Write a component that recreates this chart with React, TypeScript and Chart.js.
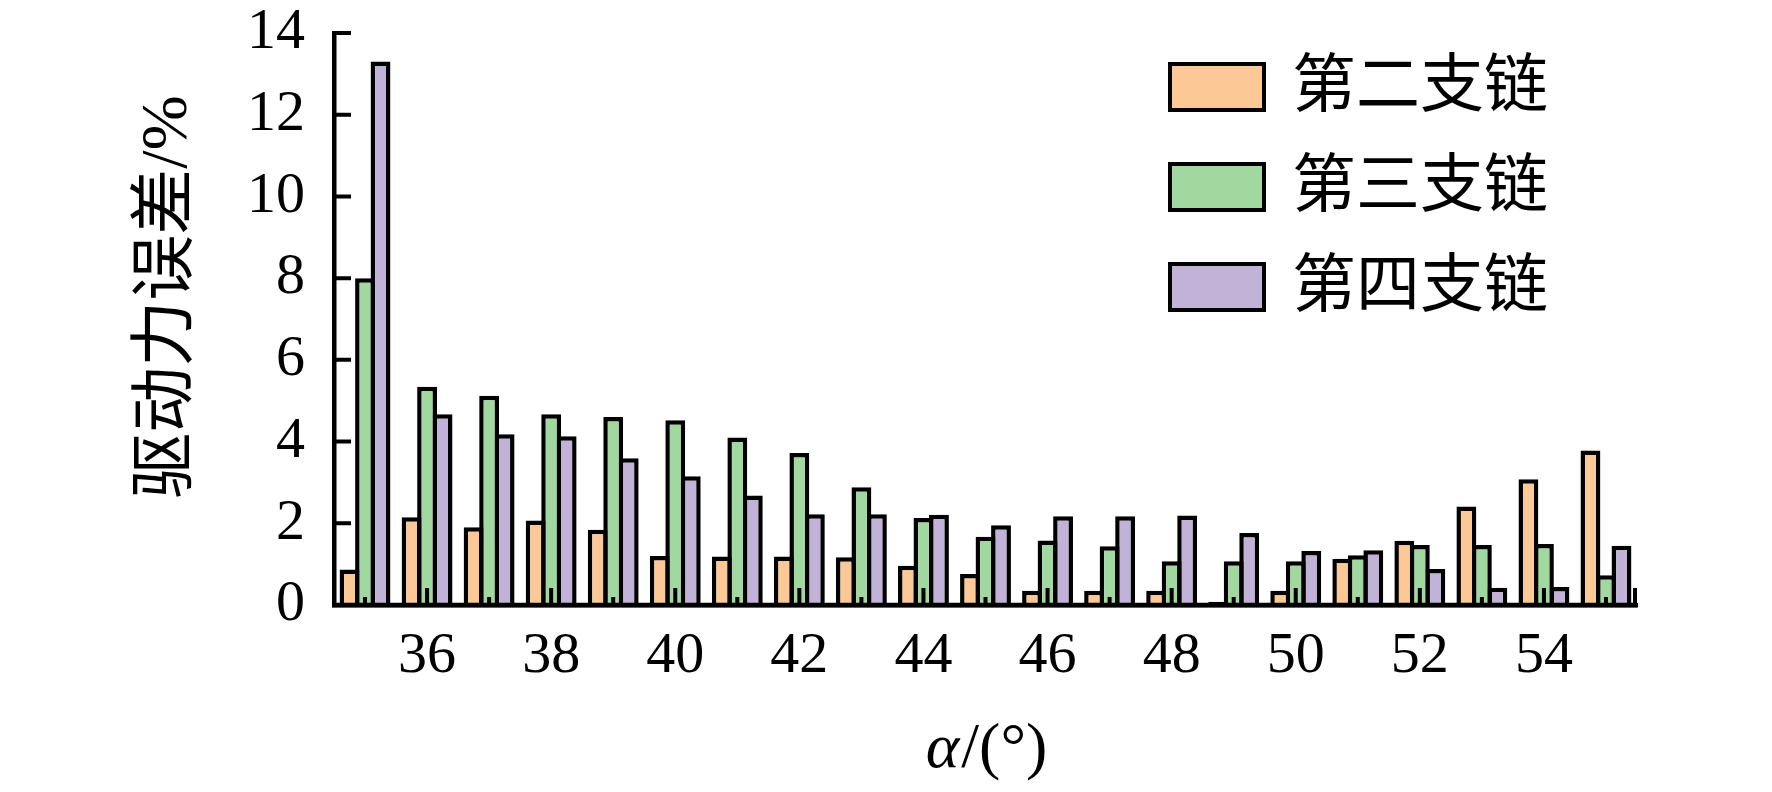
import { useEffect, useRef } from "react"
import { Chart, registerables } from "chart.js"

Chart.register(...registerables)

// alpha angle, degrees
const angles = ["35", "36", "37", "38", "39", "40", "41", "42", "43", "44", "45", "46", "47", "48", "49", "50", "51", "52", "53", "54", "55"]

// driving force error, %
const branch2 = [0.87, 2.15, 1.9, 2.07, 1.84, 1.2, 1.19, 1.19, 1.17, 0.96, 0.76, 0.35, 0.35, 0.35, 0.08, 0.35, 1.13, 1.57, 2.41, 3.08, 3.78]
const branch3 = [8.0, 5.34, 5.12, 4.67, 4.6, 4.52, 4.1, 3.72, 2.88, 2.13, 1.67, 1.58, 1.44, 1.07, 1.07, 1.07, 1.22, 1.47, 1.47, 1.49, 0.73]
const branch4 = [13.3, 4.67, 4.18, 4.13, 3.59, 3.15, 2.68, 2.22, 2.22, 2.21, 1.95, 2.17, 2.17, 2.19, 1.76, 1.32, 1.34, 0.88, 0.42, 0.44, 1.45]

const seriesNames = ["第二支链", "第三支链", "第四支链"]
const seriesColors = ["#FCC896", "#A0D8A0", "#C1B2D7"]

const yTitle = "驱动力误差/%"

const serif = "'Liberation Serif', 'Times New Roman', serif"
const cjk = "'Liberation Serif', 'Noto Sans CJK SC', serif"

// inward ticks, axis line, legend and axis titles
const decor = {
  id: "decor",
  afterDatasetsDraw(chart: any) {
    const { ctx, chartArea, scales } = chart
    const { left, right, top, bottom } = chartArea
    ctx.save()
    ctx.strokeStyle = "#000"
    ctx.lineWidth = 4
    ctx.beginPath()
    scales.y.ticks.forEach((t: any) => {
      const py = scales.y.getPixelForValue(t.value)
      const len = t.value % 2 === 0 ? 17 : 8
      ctx.moveTo(left, py)
      ctx.lineTo(left + len, py)
    })
    angles.forEach((a, i) => {
      const px = scales.x.getPixelForValue(i)
      const len = Number(a) % 2 === 0 ? 17 : 8
      ctx.moveTo(px, bottom)
      ctx.lineTo(px, bottom - len)
    })
    ctx.moveTo(right - 2, bottom)
    ctx.lineTo(right - 2, bottom - 17)
    ctx.stroke()

    ctx.lineWidth = 4.5
    ctx.beginPath()
    ctx.moveTo(left - 2, bottom)
    ctx.lineTo(right, bottom)
    ctx.stroke()

    // legend
    const bx = right - 469
    const by = top + 29
    chart.data.datasets.forEach((ds: any, i: number) => {
      const y0 = by + i * 100
      ctx.fillStyle = ds.backgroundColor
      ctx.fillRect(bx + 2, y0 + 2, 94, 46)
      ctx.lineWidth = 4
      ctx.strokeRect(bx + 2, y0 + 2, 94, 46)
      ctx.fillStyle = "#000"
      ctx.font = `64px ${cjk}`
      ctx.textAlign = "left"
      ctx.textBaseline = "middle"
      ctx.fillText(ds.label, bx + 124, y0 + 27)
    })

    // x title with italic alpha
    ctx.font = `italic 64px ${serif}`
    const w1 = ctx.measureText("α").width
    ctx.font = `64px ${serif}`
    const w2 = ctx.measureText("/(°)").width
    const sx = (left + right) / 2 - (w1 + w2) / 2
    const ty = bottom + 145
    ctx.textAlign = "left"
    ctx.textBaseline = "middle"
    ctx.font = `italic 64px ${serif}`
    ctx.fillText("α", sx, ty)
    ctx.font = `64px ${serif}`
    ctx.fillText("/(°)", sx + w1 + 2, ty)

    // y title
    ctx.save()
    ctx.translate(left - 165, top + 264)
    ctx.rotate(-Math.PI / 2)
    ctx.textAlign = "center"
    ctx.textBaseline = "middle"
    ctx.font = `66px ${cjk}`
    ctx.fillText(yTitle, 0, 0)
    ctx.restore()

    ctx.restore()
  },
}

export default function App() {
  const chartRef = useRef<HTMLCanvasElement>(null)
  const chartInstance = useRef<Chart | null>(null)

  useEffect(() => {
    document.body.style.margin = "0"
    if (!chartRef.current) return
    if (chartInstance.current) chartInstance.current.destroy()

    const values = [branch2, branch3, branch4]

    chartInstance.current = new Chart(chartRef.current, {
      type: "bar",
      data: {
        labels: angles,
        datasets: values.map((data, i) => ({
          label: seriesNames[i],
          data,
          backgroundColor: seriesColors[i],
          borderColor: "#000",
          borderWidth: 4.5,
          categoryPercentage: 0.75,
          barPercentage: 1.28,
        })),
      },
      options: {
        animation: false,
        responsive: true,
        maintainAspectRatio: false,
        layout: { padding: { left: 0, top: 33, right: 135, bottom: 0 } },
        plugins: {
          legend: { display: false },
          tooltip: { enabled: false },
        },
        scales: {
          x: {
            grid: { display: true, drawOnChartArea: false, drawTicks: false },
            border: { display: true, width: 4.5, color: "#000" },
            ticks: {
              autoSkip: false,
              maxRotation: 0,
              padding: 17,
              color: "#000",
              font: { family: serif, size: 58 },
              callback: (_v: any, i: number) => (Number(angles[i]) % 2 === 0 ? angles[i] : ""),
            },
            afterFit: (s: any) => {
              s.height = 187
              s.paddingLeft = 0
              s.paddingRight = 0
            },
          },
          y: {
            min: 0,
            max: 14,
            grid: { display: true, drawOnChartArea: false, drawTicks: false },
            border: { display: true, width: 4.5, color: "#000" },
            ticks: {
              stepSize: 1,
              padding: 29,
              color: "#000",
              font: { family: serif, size: 58 },
              callback: (v: any) => (Number(v) % 2 === 0 ? String(v) : ""),
            },
            afterFit: (s: any) => {
              s.width = 334
              s.paddingTop = 0
              s.paddingBottom = 0
            },
          },
        },
      },
      plugins: [decor],
    })

    return () => {
      if (chartInstance.current) {
        chartInstance.current.destroy()
        chartInstance.current = null
      }
    }
  }, [])

  return (
    <div style={{ width: 1772, height: 792, position: "relative", overflow: "hidden", background: "#fff" }}>
      <canvas ref={chartRef}></canvas>
    </div>
  )
}
